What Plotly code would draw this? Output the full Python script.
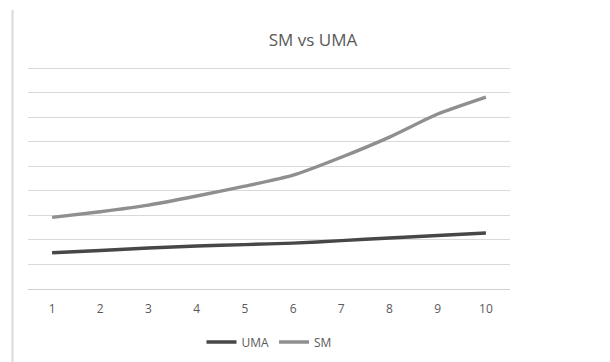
import plotly.graph_objects as go

categories = [1, 2, 3, 4, 5, 6, 7, 8, 9, 10]
uma = [1.48, 1.57, 1.67, 1.75, 1.81, 1.87, 1.97, 2.08, 2.18, 2.28]
sm = [2.92, 3.15, 3.42, 3.79, 4.19, 4.64, 5.37, 6.19, 7.13, 7.82]

fig = go.Figure()
fig.add_trace(go.Scatter(x=categories, y=uma, mode="lines", name="UMA",
                         line=dict(color="#474747", width=3.4, shape="spline", smoothing=0.6)))
fig.add_trace(go.Scatter(x=categories, y=sm, mode="lines", name="SM",
                         line=dict(color="#8f8f8f", width=3.4, shape="spline", smoothing=0.6)))

fig.update_layout(
    width=610, height=362,
    margin=dict(l=28, r=100, t=62, b=73, autoexpand=False),
    paper_bgcolor="white", plot_bgcolor="white",
    font=dict(family="Open Sans, Liberation Sans, sans-serif", color="#595959"),
    title=dict(text="SM vs UMA", x=313 / 610, xanchor="center", y=1 - 40 / 362, yanchor="middle",
               font=dict(size=17, color="#595959")),
    showlegend=True,
    legend=dict(orientation="h", x=0.5, xanchor="center", y=(289 - 342) / 227, yanchor="middle",
                font=dict(size=12, color="#595959"), itemwidth=30, tracegroupgap=0),
    xaxis=dict(range=[0.5, 10.5], tickmode="array", tickvals=categories,
               ticktext=[str(c) for c in categories], showgrid=False, zeroline=False,
               showline=True, linecolor="#d0d0d0", linewidth=1,
               ticks="outside", ticklen=9, tickcolor="rgba(0,0,0,0)",
               tickfont=dict(size=12, color="#595959")),
    yaxis=dict(range=[0, 9.25], tickmode="array", tickvals=[1, 2, 3, 4, 5, 6, 7, 8, 9],
               showgrid=True, gridcolor="#d9d9d9", gridwidth=1,
               zeroline=False, showticklabels=False, ticks="", showline=False),
)

fig.add_shape(type="line", xref="paper", yref="paper",
              x0=(12.5 - 28) / 482, x1=(12.5 - 28) / 482,
              y0=(289 - 10) / 227, y1=(289 - 362) / 227,
              line=dict(color="#d9d9d9", width=2))

fig.write_html("out.html", config={"displayModeBar": False},
               post_script="document.body.style.margin='0';")
